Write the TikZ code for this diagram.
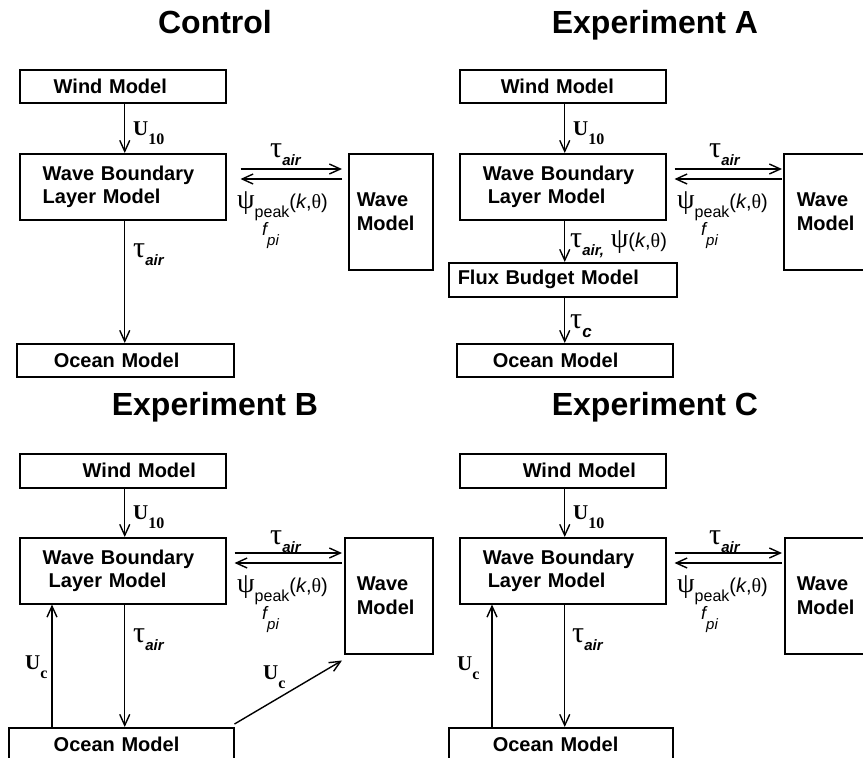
\documentclass[tikz,border=0pt]{standalone}
\usepackage{fontspec}
\setmainfont{Liberation Sans}
\newfontfamily\timesf{Liberation Serif}
\newfontfamily\grk{Liberation Serif}
\usetikzlibrary{arrows.meta,calc}
\newcommand\lblU[1]{{\timesf\bfseries\fontsize{21}{21}\selectfont U\raisebox{-9pt}{\fontsize{16}{16}\selectfont #1}}}
\newcommand\tauair{{\grk\fontsize{30}{30}\selectfont τ}\raisebox{-8pt}{\fontsize{15}{15}\selectfont\bfseries\itshape air}}
\newcommand\psipeak{{\grk\fontsize{28}{28}\selectfont ψ}\raisebox{-9pt}{\fontsize{16}{16}\selectfont peak}{\fontsize{20}{20}\selectfont(\textit{k},{\grk θ})}}
\newcommand\fpi{{\fontsize{18}{18}\selectfont\itshape f}\raisebox{-10pt}{\fontsize{15}{15}\selectfont\itshape pi}}
\begin{document}
\begin{tikzpicture}[x=1pt,y=-1pt,
  box/.style={draw, line width=1.5pt, anchor=north west, inner xsep=0pt, inner ysep=0pt, align=left, font=\bfseries\fontsize{20}{23}\selectfont},
  wbox/.style={box, font=\bfseries\fontsize{20}{24}\selectfont},
  arr/.style={line width=1.4pt, -{Straight Barb[length=11pt,width=10pt,line width=1.4pt]}},
  lab/.style={inner sep=0pt, anchor=base west},
  title/.style={inner sep=0pt, anchor=base, font=\bfseries\fontsize{32}{32}\selectfont}]
\useasboundingbox (0,0) rectangle (863,758);
\fill[white] (0,0) rectangle (863,758);
\clip (0,0) rectangle (863,758);

% ---------- Control ----------
\node[title] (kt) at (215,33) {Control};
\node[box, text width=206pt, minimum height=33pt] (kwind) at (19,69) {\hspace*{34pt}Wind Model};
\node[box, text width=206pt, minimum height=66pt] (kwbl) at (19,153) {\hspace*{23pt}Wave Boundary\\\hspace*{23pt}Layer Model};
\node[wbox, text width=84pt, minimum height=116pt] (kwave) at (348,153) {\hspace*{8pt}Wave\\\hspace*{8pt}Model};
\node[box, text width=217pt, minimum height=33pt] (kocean) at (16,343) {\hspace*{37pt}Ocean Model};
\draw[arr] ([xshift=2pt]kwind.south) -- ([xshift=2pt]kwbl.north);
\draw[arr] ($(kwbl.north east)+(14,16)$) -- ($(kwave.north west)+(-6,16)$);
\draw[arr] ($(kwave.north west)+(-6,26)$) -- ($(kwbl.north east)+(14,26)$);
\draw[arr] ($(kwbl.south)+(2,0)$) -- ($(kwbl.south |- kocean.north)+(2,0)$);
\node[lab] (ku) at (133,135) {\lblU{10}};
\node[lab] (kta) at (270,157) {\tauair};
\node[lab] (kpsi) at (237,208) {\psipeak};
\node[lab] (kf) at (262,235) {\fpi};
\node[lab] (ktd) at (133,257) {\tauair};

% ---------- Experiment A ----------
\node[title] (at) at (655,33) {Experiment A};
\node[box, text width=206pt, minimum height=33pt] (awind) at (459,69) {\hspace*{41pt}Wind Model};
\node[box, text width=206pt, minimum height=66pt] (awbl) at (459,153) {\hspace*{23pt}Wave Boundary\\\hspace*{28pt}Layer Model};
\node[wbox, text width=100pt, minimum height=116pt] (awave) at (783,153) {\hspace*{13pt}Wave\\\hspace*{13pt}Model};
\node[box, text width=228pt, minimum height=34pt] (aflux) at (448,262) {\hspace*{9pt}Flux Budget Model};
\node[box, text width=216pt, minimum height=33pt] (aocean) at (456,343) {\hspace*{36pt}Ocean Model};
\draw[arr] ([xshift=2pt]awind.south) -- ([xshift=2pt]awbl.north);
\draw[arr] ($(awbl.north east)+(8,16)$) -- ($(awave.north west)+(-1,16)$);
\draw[arr] ($(awave.north west)+(-1,26)$) -- ($(awbl.north east)+(8,26)$);
\draw[arr] ([xshift=2pt]awbl.south) -- ([xshift=2pt]aflux.north);
\draw[arr] ([xshift=2pt]aflux.south) -- (aocean.north);
\node[lab] (au) at (573,135) {\lblU{10}};
\node[lab] (ata) at (709,157) {\tauair};
\node[lab] (apsi) at (677,208) {\psipeak};
\node[lab] (af) at (701,235) {\fpi};
\node[lab] (atp) at (570,247) {{\grk\fontsize{30}{30}\selectfont τ}\raisebox{-8pt}{\fontsize{15}{15}\selectfont\bfseries\itshape air,}\hspace{7pt}{\grk\fontsize{28}{28}\selectfont ψ}{\fontsize{20}{20}\selectfont(\textit{k},{\grk θ})}};
\node[lab] (atc) at (570,328) {{\grk\fontsize{30}{30}\selectfont τ}\raisebox{-9pt}{\fontsize{17}{17}\selectfont\bfseries\itshape c}};

% ---------- Experiment B ----------
\node[title] (bt) at (215,415) {Experiment B};
\node[box, text width=206pt, minimum height=34pt] (bwind) at (19,453) {\hspace*{63pt}Wind Model};
\node[box, text width=206pt, minimum height=66pt] (bwbl) at (19,537) {\hspace*{23pt}Wave Boundary\\\hspace*{29pt}Layer Model};
\node[wbox, text width=88pt, minimum height=116pt] (bwave) at (344,537) {\hspace*{12pt}Wave\\\hspace*{12pt}Model};
\node[box, text width=225pt, minimum height=34pt] (bocean) at (8,727) {\hspace*{45pt}Ocean Model};
\draw[arr] ([xshift=2pt]bwind.south) -- ([xshift=2pt]bwbl.north);
\draw[arr] ($(bwbl.north east)+(8,16)$) -- ($(bwave.north west)+(-2,16)$);
\draw[arr] ($(bwave.north west)+(-2,26)$) -- ($(bwbl.north east)+(8,26)$);
\draw[arr] ($(bwbl.south)+(2,0)$) -- ($(bwbl.south |- bocean.north)+(2,0)$);
\draw[arr] ($(bwbl.south west |- bocean.north)+(33,0)$) -- ($(bwbl.south west)+(33,0)$);
\draw[arr] ($(bocean.north east)+(0,-3)$) -- ($(bwave.south west)+(-2,6)$);
\node[lab] (bu) at (133,519) {\lblU{10}};
\node[lab] (bta) at (270,544) {\tauair};
\node[lab] (bpsi) at (237,592) {\psipeak};
\node[lab] (bf) at (262,619) {\fpi};
\node[lab] (btd) at (133,642) {\tauair};
\node[lab] (buc) at (25,669) {\lblU{c}};
\node[lab] (bud) at (263,679) {\lblU{c}};

% ---------- Experiment C ----------
\node[title] (ct) at (655,415) {Experiment C};
\node[box, text width=206pt, minimum height=34pt] (cwind) at (459,453) {\hspace*{63pt}Wind Model};
\node[box, text width=206pt, minimum height=66pt] (cwbl) at (459,537) {\hspace*{23pt}Wave Boundary\\\hspace*{28pt}Layer Model};
\node[wbox, text width=100pt, minimum height=116pt] (cwave) at (784,537) {\hspace*{12pt}Wave\\\hspace*{12pt}Model};
\node[box, text width=224pt, minimum height=34pt] (cocean) at (448,727) {\hspace*{44pt}Ocean Model};
\draw[arr] ([xshift=2pt]cwind.south) -- ([xshift=2pt]cwbl.north);
\draw[arr] ($(cwbl.north east)+(8,16)$) -- ($(cwave.north west)+(-2,16)$);
\draw[arr] ($(cwave.north west)+(-2,26)$) -- ($(cwbl.north east)+(8,26)$);
\draw[arr] ($(cwbl.south)+(2,0)$) -- ($(cwbl.south |- cocean.north)+(2,0)$);
\draw[arr] ($(cwbl.south west |- cocean.north)+(33,0)$) -- ($(cwbl.south west)+(33,0)$);
\node[lab] (cu) at (573,519) {\lblU{10}};
\node[lab] (cta) at (709,544) {\tauair};
\node[lab] (cpsi) at (677,592) {\psipeak};
\node[lab] (cf) at (701,619) {\fpi};
\node[lab] (ctd) at (572,642) {\tauair};
\node[lab] (cuc) at (457,670) {\lblU{c}};
\end{tikzpicture}
\end{document}
